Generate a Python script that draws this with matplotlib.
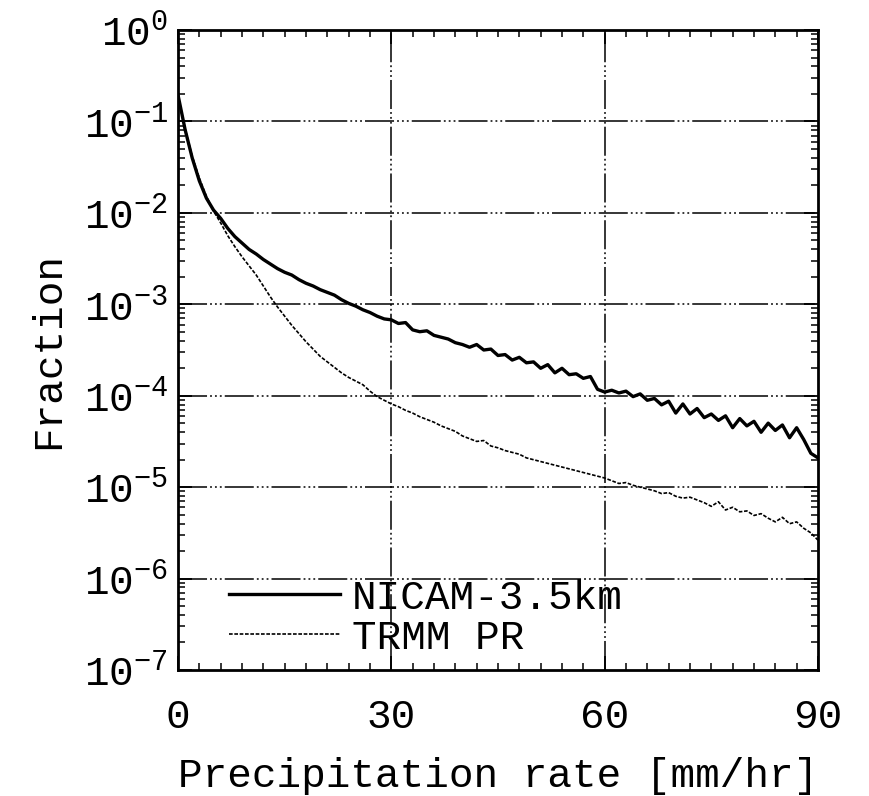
import numpy as np
import matplotlib
matplotlib.use("Agg")
import matplotlib.pyplot as plt
from matplotlib.ticker import FixedLocator, LogLocator, NullFormatter

plt.rcParams['font.family'] = ['Liberation Mono', 'DejaVu Sans']
plt.rcParams['mathtext.default'] = 'regular'
plt.rcParams['axes.unicode_minus'] = False

# precipitation rate bins [mm/hr]
rate = list(range(0, 91))

# log10 of fraction
nicam_log10 = [
    -0.71, -1.09, -1.40, -1.65, -1.84, -1.97, -2.06, -2.17, -2.26, -2.33,
    -2.40, -2.45, -2.51, -2.56, -2.61, -2.65, -2.68, -2.73, -2.77, -2.80,
    -2.84, -2.87, -2.90, -2.95, -2.99, -3.02, -3.06, -3.09, -3.13, -3.16,
    -3.17, -3.21, -3.20, -3.28, -3.30, -3.29, -3.34, -3.36, -3.38, -3.42,
    -3.44, -3.47, -3.44, -3.50, -3.49, -3.56, -3.55, -3.61, -3.58, -3.64,
    -3.63, -3.70, -3.66, -3.75, -3.70, -3.77, -3.76, -3.81, -3.79, -3.93,
    -3.96, -3.94, -3.97, -3.95, -4.01, -3.98, -4.05, -4.03, -4.10, -4.06,
    -4.19, -4.09, -4.20, -4.14, -4.24, -4.20, -4.27, -4.22, -4.35, -4.25,
    -4.33, -4.28, -4.40, -4.30, -4.38, -4.32, -4.46, -4.35, -4.48, -4.63,
    -4.68]

trmm_log10 = [
    -0.72, -1.08, -1.38, -1.62, -1.82, -1.98, -2.11, -2.25, -2.37, -2.48,
    -2.58, -2.68, -2.80, -2.92, -3.03, -3.13, -3.23, -3.32, -3.41, -3.49,
    -3.57, -3.63, -3.69, -3.75, -3.80, -3.84, -3.88, -3.95, -4.01, -4.05,
    -4.09, -4.12, -4.16, -4.19, -4.23, -4.26, -4.29, -4.33, -4.36, -4.39,
    -4.44, -4.47, -4.50, -4.49, -4.55, -4.57, -4.60, -4.62, -4.64, -4.68,
    -4.70, -4.72, -4.74, -4.76, -4.78, -4.80, -4.82, -4.84, -4.86, -4.88,
    -4.90, -4.93, -4.96, -4.95, -4.98, -5.00, -5.02, -5.04, -5.07, -5.06,
    -5.10, -5.12, -5.11, -5.14, -5.17, -5.21, -5.16, -5.25, -5.22, -5.27,
    -5.26, -5.31, -5.29, -5.34, -5.38, -5.33, -5.40, -5.38, -5.45, -5.50,
    -5.58]

labels = ['NICAM-3.5km', 'TRMM PR']
x_ticks = [0, 30, 60, 90]
y_exponents = [0, -1, -2, -3, -4, -5, -6, -7]

nicam = np.power(10.0, nicam_log10)
trmm = np.power(10.0, trmm_log10)

fs = 29.5

fig = plt.figure(figsize=(8.7, 7.96), dpi=100)
ax = fig.add_axes([0.2046, 0.1583, 0.7356, 0.804])

grid_ls = (0, (19, 2, 1.2, 2, 1.2, 2, 1.2, 2))
for xv in x_ticks[1:-1]:
    ax.axvline(xv, color='black', lw=1.1, ls=grid_ls, zorder=1)
for e in y_exponents[1:-1]:
    ax.axhline(10.0 ** e, color='black', lw=1.1, ls=grid_ls, zorder=1)

ax.plot(rate, nicam, color='black', lw=2.4, label=labels[0], zorder=3)
ax.plot(rate, trmm, color='black', lw=1.2, ls=(0, (2.2, 1.0)),
        label=labels[1], zorder=3)

ax.set_yscale('log')
ax.set_xlim(0, 90)
ax.set_ylim(1e-7, 1)

ax.xaxis.set_major_locator(FixedLocator(x_ticks))
ax.xaxis.set_minor_locator(FixedLocator(list(range(0, 91, 3))))
ax.set_xticklabels([str(v) for v in x_ticks])
ax.yaxis.set_major_locator(FixedLocator([10.0 ** e for e in y_exponents]))
ax.yaxis.set_minor_locator(LogLocator(base=10, subs=np.arange(2, 10), numticks=20))
ax.yaxis.set_minor_formatter(NullFormatter())
ax.set_yticklabels([r'$10^{%d}$' % e for e in y_exponents])

ax.tick_params(which='both', direction='in', top=True, right=True,
               colors='black', labelsize=fs)
ax.tick_params(which='major', length=10, width=1.3)
ax.tick_params(which='minor', length=5, width=1.1)
ax.tick_params(axis='y', which='major', pad=7)
ax.tick_params(axis='x', which='major', pad=20)
for s in ax.spines.values():
    s.set_linewidth(2)

ax.set_xlabel('Precipitation rate [mm/hr]', fontsize=fs, labelpad=15)
ax.set_ylabel('Fraction', fontsize=fs, labelpad=12)

leg = ax.legend(loc='lower left', frameon=False, fontsize=fs,
                handlelength=2.7, handletextpad=0.3, labelspacing=0.05,
                bbox_to_anchor=(0.054, -0.005), borderaxespad=0.0)

fig.savefig('out.png', dpi=100)
